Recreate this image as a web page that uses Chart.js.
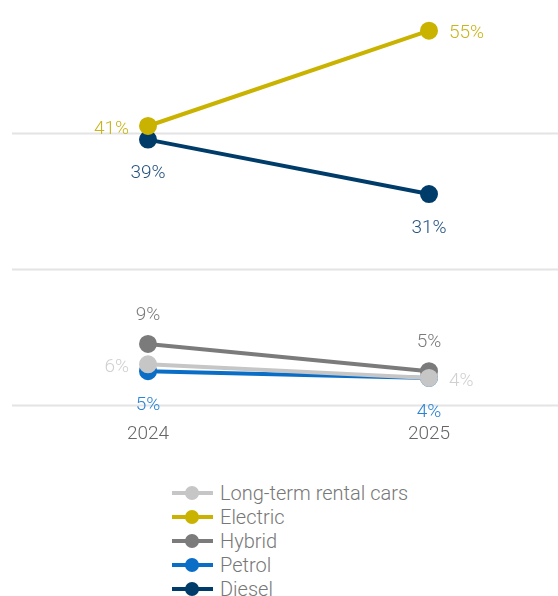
<!DOCTYPE html>
<html>
<head>
<meta charset="utf-8">
<script src="https://cdn.jsdelivr.net/npm/chart.js@4.4.1/dist/chart.umd.min.js"></script>
<style>
    body { margin: 0; background: #fff; font-family: Roboto, "Noto Sans", sans-serif; }
    #wrap { position: relative; width: 558px; height: 596px; overflow: hidden; }
    #chart { position: absolute; left: 0; top: 0; }
    #legend { position: absolute; left: 172px; top: 481px; }
    .item { display: flex; align-items: center; height: 24px; font-size: 20px; font-weight: 300; color: #777; }
    .swatch { position: relative; width: 41px; height: 24px; margin-right: 7px; }
    .swatch .line { position: absolute; left: 0; right: 0; top: 10px; height: 4px; }
    .swatch .dot { position: absolute; left: 13px; top: 5px; width: 14px; height: 14px; border-radius: 50%; }
</style>
</head>
<body>
<div id="wrap">
    <canvas id="chart" width="558" height="464"></canvas>
    <div id="legend"></div>
</div>
<script>
const years = ['2024', '2025'];

const longTermRental = [6, 4];
const electric = [41, 55];
const hybrid = [9, 5];
const petrol = [5, 4];
const diesel = [39, 31];

const yTicks = [0, 20, 40];

// line / point colours and the matching value-label colours
const series = [
    { name: 'Long-term rental cars', values: longTermRental, color: '#c6c6c6', text: '#d0d0d0', place: ['left', 'right'] },
    { name: 'Electric', values: electric, color: '#c9b300', text: '#c9b41a', place: ['left', 'right'] },
    { name: 'Hybrid', values: hybrid, color: '#7b7b7b', text: '#7a7a7a', place: ['above', 'above'] },
    { name: 'Petrol', values: petrol, color: '#0a6dc6', text: '#2a83d4', place: ['below', 'below'] },
    { name: 'Diesel', values: diesel, color: '#003c69', text: '#24527f', place: ['below', 'below'] }
];

const gridLines = {
    id: 'gridLines',
    beforeDatasetsDraw(chart) {
        const ctx = chart.ctx;
        const y = chart.scales.y;
        ctx.save();
        ctx.strokeStyle = '#e4e4e4';
        ctx.lineWidth = 2;
        yTicks.forEach((v) => {
            const py = Math.round(y.getPixelForValue(v)) + 0.5;
            ctx.beginPath();
            ctx.moveTo(12, py);
            ctx.lineTo(chart.width, py);
            ctx.stroke();
        });
        ctx.restore();
    }
};

const valueLabels = {
    id: 'valueLabels',
    afterDatasetsDraw(chart) {
        const ctx = chart.ctx;
        ctx.save();
        ctx.font = '300 19px Roboto, "Noto Sans", sans-serif';
        ctx.textBaseline = 'middle';
        chart.data.datasets.forEach((ds, i) => {
            const s = series[i];
            chart.getDatasetMeta(i).data.forEach((pt, j) => {
                const where = s.place[j];
                const txt = `${ ds.data[j] }%`;
                ctx.fillStyle = s.text;
                if (where === 'left') {
                    ctx.textAlign = 'right';
                    ctx.fillText(txt, pt.x - 19, pt.y + 3);
                } else if (where === 'right') {
                    ctx.textAlign = 'left';
                    ctx.fillText(txt, pt.x + 20, pt.y + 3);
                } else if (where === 'above') {
                    ctx.textAlign = 'center';
                    ctx.fillText(txt, pt.x, pt.y - 29);
                } else {
                    ctx.textAlign = 'center';
                    ctx.fillText(txt, pt.x, pt.y + 34);
                }
            });
        });
        ctx.restore();
    }
};

const chart = new Chart(document.getElementById('chart'), {
    type: 'line',
    data: {
        labels: years,
        datasets: series.map((s) => ({
            label: s.name,
            data: s.values,
            borderColor: s.color,
            backgroundColor: s.color,
            pointBackgroundColor: s.color,
            pointBorderColor: s.color,
            borderWidth: 4,
            pointRadius: 7,
            pointHoverRadius: 7,
            clip: false
        }))
    },
    options: {
        responsive: false,
        animation: false,
        layout: { autoPadding: false, padding: { left: 148, right: 129, top: 0, bottom: 0 } },
        plugins: {
            legend: { display: false },
            tooltip: { enabled: false }
        },
        scales: {
            x: {
                offset: false,
                grid: { display: false, drawTicks: false },
                border: { display: false },
                ticks: {
                    padding: 18,
                    color: '#666',
                    font: { family: 'Roboto, "Noto Sans", sans-serif', size: 19, weight: 300 }
                }
            },
            y: {
                display: false,
                min: 0,
                max: 59.5
            }
        }
    },
    plugins: [gridLines, valueLabels]
});

// legend as a plain list under the chart
const legend = document.getElementById('legend');
chart.data.datasets.forEach((ds) => {
    const item = document.createElement('div');
    item.className = 'item';
    item.innerHTML = `<div class="swatch"><div class="line" style="background:${ ds.borderColor }"></div>` +
        `<div class="dot" style="background:${ ds.borderColor }"></div></div><span>${ ds.label }</span>`;
    legend.appendChild(item);
});
</script>
</body>
</html>
